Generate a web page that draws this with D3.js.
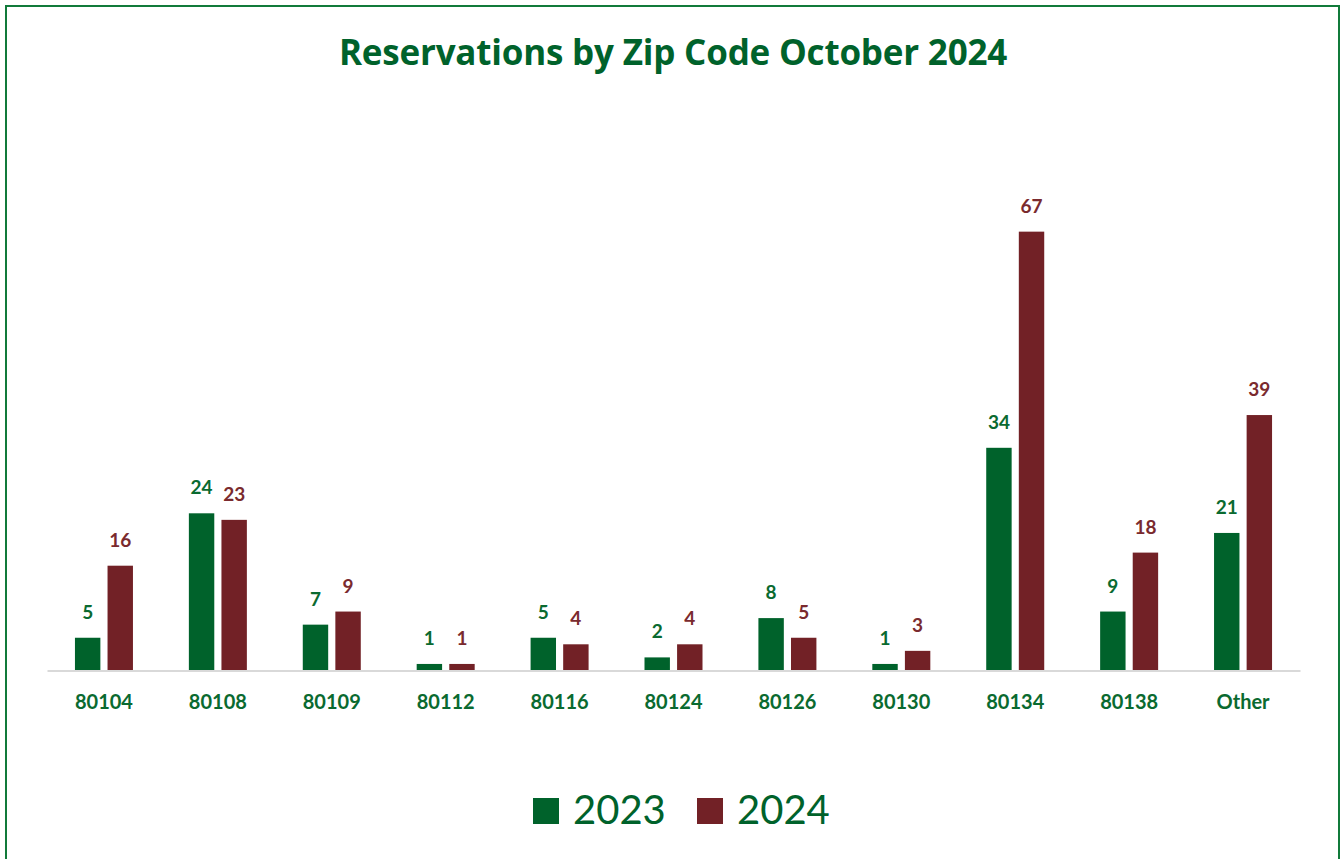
<!DOCTYPE html>
<html>
<head>
<meta charset="utf-8">
<script src="https://cdn.jsdelivr.net/npm/d3@7"></script>
<style>
  body { margin: 0; background: #fff; }
  svg { display: block; font-family: Lato, "Open Sans", sans-serif; }
</style>
</head>
<body>
<script>
// chart data
const zipCodes = ['80104', '80108', '80109', '80112', '80116', '80124', '80126', '80130', '80134', '80138', 'Other']
const years = ['2023', '2024']
const values2023 = [5, 24, 7, 1, 5, 2, 8, 1, 34, 9, 21]
const values2024 = [16, 23, 9, 1, 4, 4, 5, 3, 67, 18, 39]

const width = 1341
const height = 859
const green = '#00622b'
const red = '#722126'
const colors = { '2023': green, '2024': red }
const labelColors = { '2023': '#0a6a30', '2024': '#7a2a2e' }

const rows = zipCodes.map((z, i) => ({ zip: z, '2023': values2023[i], '2024': values2024[i] }))

const svg = d3.select('body')
  .append('svg')
  .attr('width', width)
  .attr('height', height)

// outer border
svg.append('rect')
  .attr('x', 6)
  .attr('y', 6)
  .attr('width', 1333)
  .attr('height', 900)
  .attr('fill', 'none')
  .attr('stroke', '#117a3a')
  .attr('stroke-width', 2)

svg.append('text')
  .attr('x', 673)
  .attr('y', 65)
  .attr('text-anchor', 'middle')
  .attr('font-family', '"Open Sans", sans-serif')
  .attr('font-size', 35)
  .attr('letter-spacing', -0.2)
  .attr('font-weight', 'bold')
  .attr('fill', green)
  .text('Reservations by Zip Code October 2024')

const x0 = d3.scaleBand()
  .domain(zipCodes)
  .range([47, 1300])

const groupW = 58
const x1 = d3.scaleBand()
  .domain(years)
  .range([0, groupW])
  .paddingInner(0.22)

const y = d3.scaleLinear()
  .domain([0, 80])
  .range([670.5, 146.5])

const groups = svg.append('g')
  .selectAll('g')
  .data(rows)
  .join('g')
  .attr('transform', d => `translate(${x0(d.zip) + (x0.bandwidth() - groupW) / 2},0)`)

groups.selectAll('rect')
  .data(d => years.map(k => ({ key: k, value: d[k] })))
  .join('rect')
  .attr('x', d => x1(d.key))
  .attr('width', x1.bandwidth())
  .attr('y', d => y(d.value))
  .attr('height', d => y(0) - y(d.value))
  .attr('fill', d => colors[d.key])

groups.selectAll('text')
  .data(d => years.map(k => ({ key: k, value: d[k] })))
  .join('text')
  .attr('x', d => x1(d.key) + x1.bandwidth() / 2)
  .attr('y', d => y(d.value) - 19)
  .attr('text-anchor', 'middle')
  .attr('font-size', 19)
  .attr('font-weight', 'bold')
  .attr('fill', d => labelColors[d.key])
  .text(d => d.value)

// category axis
const xAxis = svg.append('g')
  .attr('transform', `translate(0,${y(0)})`)
  .call(d3.axisBottom(x0).tickSize(0).tickPadding(24))

xAxis.select('.domain')
  .attr('stroke', '#d9d9d9')
  .attr('stroke-width', 2)

xAxis.selectAll('text')
  .attr('font-family', 'Lato, sans-serif')
  .attr('font-size', 20)
  .attr('font-weight', 'bold')
  .attr('fill', '#0a6a30')

// legend
const legend = svg.append('g')
  .selectAll('g')
  .data(years)
  .join('g')
  .attr('transform', (d, i) => `translate(${533 + i * 164},798)`)

legend.append('rect')
  .attr('width', 26)
  .attr('height', 26)
  .attr('fill', d => colors[d])

legend.append('text')
  .attr('x', 40)
  .attr('y', 26)
  .attr('font-size', 40)
  .attr('fill', green)
  .text(d => d)
</script>
</body>
</html>
